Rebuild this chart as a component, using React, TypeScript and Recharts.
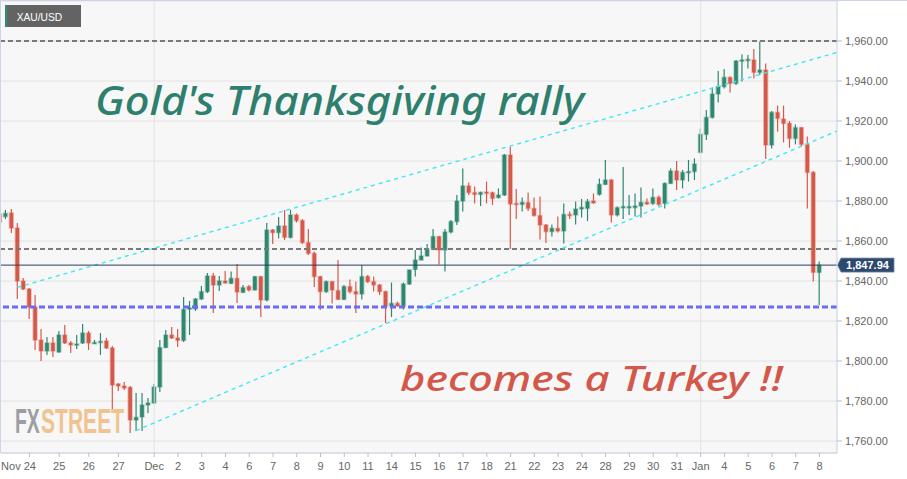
import React from 'react';
import { ComposedChart, Bar, XAxis, YAxis, CartesianGrid, ReferenceLine } from 'recharts';

// candle index of the first value below (partially clipped candle at left edge)
const firstIndex = -1;

const opens = [
  1873.5, 1872.2, 1874, 1866.5, 1840, 1836, 1827, 1810.5, 1805, 1809, 1804.5, 1813, 1809, 1808, 1809, 1814, 1808.8, 1809.2, 1810, 1806.5,
  1788.5, 1787.5, 1786.8, 1770.5, 1772, 1778, 1779, 1787, 1806.7, 1813, 1811.5, 1810.3, 1826, 1826, 1831, 1834.7, 1842.5, 1838, 1840, 1838.8,
  1841.3, 1834.3, 1837.2, 1835.5, 1842.2, 1830.5, 1865.5, 1864.2, 1867.5, 1861.8, 1873, 1870.2, 1859.2, 1853.8, 1842.2, 1834.7, 1839.7, 1835.2, 1830.8, 1837.2,
  1834.7, 1833.5, 1842.2, 1839.7, 1838, 1834.7, 1827.5, 1828.8, 1827.5, 1838.5, 1845.8, 1850.5, 1852.5, 1855.8, 1862.2, 1855.5, 1864.5, 1869.7, 1880, 1887.5,
  1884.2, 1883.3, 1884.5, 1884.2, 1881.7, 1883, 1903, 1878.8, 1878.3, 1879.2, 1876.3, 1872.7, 1868, 1864.7, 1866.3, 1865, 1873.3, 1873, 1876, 1876.3,
  1880, 1883.3, 1888.3, 1890.5, 1873, 1876.7, 1876.7, 1876.7, 1877.5, 1879.3, 1878.8, 1881.8, 1878.8, 1888.8, 1895, 1890.5, 1894.2, 1894.7, 1904.3, 1913.3,
  1921.8, 1933.5, 1937.2, 1941.8, 1938.8, 1950, 1950.3, 1950.5, 1944.3, 1945.5, 1908, 1924.3, 1921, 1918.8, 1911.3, 1916.7, 1908.3, 1894.3, 1844.3,
];
const highs = [
  1874.5, 1875.5, 1876, 1869, 1841.5, 1836.5, 1833, 1816, 1812, 1812, 1815, 1818, 1810, 1813, 1818.5, 1815, 1810.5, 1814, 1811.5, 1807.5,
  1789, 1789.5, 1787.5, 1784, 1784, 1781.5, 1788.5, 1810.5, 1815.5, 1817, 1816, 1832, 1830, 1831.5, 1837.5, 1844, 1844, 1842.5, 1845, 1844.7,
  1848.5, 1838, 1838, 1842.5, 1842.5, 1869, 1866, 1872, 1875.5, 1875.5, 1873.8, 1871, 1866, 1854.7, 1842.5, 1840.2, 1840, 1850.5, 1838, 1840.8,
  1839.7, 1848, 1843, 1842.2, 1838.5, 1835.2, 1839.2, 1829.7, 1839.2, 1845.8, 1855.5, 1856.8, 1858.5, 1866, 1862.5, 1866, 1870.5, 1883, 1896.3, 1889.2,
  1887.2, 1884.7, 1889.7, 1884.7, 1886.3, 1903.5, 1907, 1886, 1881.7, 1884.3, 1881.7, 1882.2, 1868.5, 1868.3, 1872.2, 1878.8, 1874.7, 1879.7, 1881, 1881,
  1883.8, 1891.3, 1900.5, 1891, 1877.2, 1897, 1883, 1883.8, 1886.7, 1881.3, 1886.3, 1882.7, 1889.3, 1896.3, 1900, 1895.5, 1900.5, 1901.3, 1916.3, 1925.5,
  1936.7, 1945, 1946, 1942.2, 1950.5, 1953.3, 1953, 1956, 1959.7, 1948.8, 1925, 1927.7, 1927.7, 1920, 1918.3, 1917, 1912.2, 1895, 1849.7,
];
const lows = [
  1869, 1871, 1864, 1831, 1835.5, 1821, 1805.5, 1800, 1803, 1802, 1804, 1808.5, 1804, 1806, 1808.5, 1805.5, 1808.5, 1803, 1806, 1774,
  1785, 1785.5, 1764, 1765, 1765, 1774, 1778.5, 1784.5, 1806.5, 1811, 1807, 1809.5, 1813, 1825, 1830.5, 1834, 1824, 1835, 1838.8, 1838.5,
  1829, 1834, 1834.7, 1835.2, 1822, 1829.7, 1858.5, 1861.3, 1860.5, 1861.3, 1869.2, 1858.5, 1853, 1837, 1825.5, 1834, 1828.8, 1830.5, 1830.5, 1833.8,
  1824, 1830.8, 1839, 1834.7, 1833, 1819, 1822, 1827.2, 1825.8, 1838, 1842.2, 1850.2, 1852.2, 1855.5, 1848.2, 1844.7, 1863.8, 1868, 1874.7, 1883,
  1878.8, 1877.5, 1878.8, 1878, 1881.3, 1882.5, 1856, 1871, 1874.7, 1875, 1872.2, 1860.8, 1859, 1862.2, 1864.3, 1858.8, 1871, 1868.3, 1871.7, 1870,
  1878.7, 1882.7, 1888, 1869.3, 1872.2, 1871, 1873, 1872.2, 1871.7, 1878, 1878, 1877.5, 1876.3, 1888.5, 1885.5, 1886.3, 1889.7, 1890.5, 1903.8, 1910.5,
  1921.3, 1929.3, 1936.3, 1934.3, 1938, 1939.7, 1946.3, 1941.3, 1943, 1901, 1906.3, 1914.7, 1909.3, 1906.7, 1908.3, 1907, 1876.3, 1839.7, 1828,
];
const closes = [
  1869.5, 1873.8, 1866.5, 1840, 1836, 1827, 1810.5, 1805, 1809, 1805, 1813, 1809, 1808, 1808.5, 1814, 1809, 1809.2, 1809.8, 1806.5, 1788,
  1787.5, 1786.5, 1770.5, 1771.8, 1778, 1779, 1787, 1806.7, 1813, 1811.5, 1810.3, 1825.8, 1826.5, 1831, 1834.7, 1842.5, 1838, 1840, 1839, 1841.3,
  1834.5, 1836.7, 1835.5, 1842.2, 1830.5, 1865.5, 1864.2, 1867.5, 1861.8, 1873, 1870.2, 1859.2, 1853.8, 1842.2, 1834.7, 1839.7, 1835.5, 1830.8, 1837.2, 1834.7,
  1833.5, 1842.2, 1839.7, 1838, 1834.7, 1827.5, 1828.8, 1827.5, 1838.5, 1845.5, 1850.5, 1852.5, 1855.5, 1862.2, 1855.5, 1864.5, 1869.7, 1880, 1887.5, 1884.2,
  1883.3, 1884.3, 1883.8, 1881.3, 1883, 1903, 1878.5, 1878.2, 1879.3, 1876.3, 1872.7, 1868, 1864.7, 1866.3, 1865, 1873.3, 1872.7, 1876, 1876.8, 1879.7,
  1879, 1888.3, 1890.5, 1873, 1876.7, 1877.2, 1877.2, 1877.5, 1879.3, 1878.5, 1881.8, 1878.3, 1888.8, 1895, 1890.5, 1894.3, 1894.7, 1898.5, 1913.3, 1921.8,
  1933.5, 1937.2, 1941.8, 1938.8, 1950, 1950.5, 1950.8, 1944.3, 1945.5, 1908, 1924.3, 1921.3, 1918.8, 1911.3, 1916.7, 1908.3, 1894.3, 1844.3, 1847.94,
];

const tickIdx = [4, 9, 14, 19, 25, 29, 33, 37, 41, 45, 49, 53, 57, 61, 65, 69, 73, 77, 81, 85, 89, 93, 97, 101, 105, 109, 113, 117, 121, 125, 129, 133, 137];
const tickLabels = ['Nov 24', '25', '26', '27', 'Dec', '2', '3', '4', '6', '7', '8', '9', '10', '11', '14', '15', '16', '17', '18', '21', '22', '23', '24', '28', '29', '30', '31', 'Jan', '4', '5', '6', '7', '8'];
const yTicks = [1760, 1780, 1800, 1820, 1840, 1860, 1880, 1900, 1920, 1940, 1960];
const monthStarts = [25, 117];

const resistanceTop = 1960;
const resistanceMid = 1856;
const lastPrice = 1847.94;
const supportLevel = 1827;
const upperChannel = [{ x: 1.95, y: 1836.8 }, { x: 139.95, y: 1954.3 }];
const lowerChannel = [{ x: 21.94, y: 1765.2 }, { x: 139.95, y: 1915 }];

const GREEN = '#2f8770';
const RED = '#d65848';
const FONT = '"Liberation Sans", Arial, sans-serif';

const data = opens.map((o, k) => ({
  i: k + firstIndex,
  open: o,
  high: highs[k],
  low: lows[k],
  close: closes[k],
  range: [lows[k], highs[k]],
}));

const Candle = (props: any) => {
  const { x, y, width, height, payload } = props;
  if (x == null || y == null || !payload) return null;
  const { open, close, high, low } = payload;
  const cx = x + width / 2;
  const yTop = Math.min(y, y + height);
  const yBot = Math.max(y, y + height);
  const span = high - low;
  const py = (v: number) => (span > 0 ? yTop + ((high - v) / span) * (yBot - yTop) : yTop);
  const up = close >= open;
  const color = up ? GREEN : RED;
  const bTop = py(Math.max(open, close));
  const bBot = py(Math.min(open, close));
  const h = Math.max(bBot - bTop, 1.2);
  return (
    <g>
      <line x1={cx} x2={cx} y1={yTop} y2={yBot} stroke={color} strokeWidth={1.2} />
      <rect x={cx - 2.7} y={bTop - 0.8} width={5.4} height={h + 1.6} fill={color} fillOpacity={0.35} />
      <rect x={cx - 1.8} y={bTop} width={3.6} height={h} fill={color} />
    </g>
  );
};

const XTick = (props: any) => {
  const { x, y, payload } = props;
  const idx = tickIdx.indexOf(payload.value);
  const label = idx >= 0 ? tickLabels[idx] : '';
  const isFirst = idx === 0;
  return (
    <text
      x={isFirst ? x + 6.5 : x}
      y={y}
      dy="0.71em"
      textAnchor={isFirst ? 'end' : 'middle'}
      fontSize={11}
      fill="#666"
      fontFamily={FONT}
    >
      {label}
    </text>
  );
};

const PriceTag = (props: any) => {
  const vb = props.viewBox || {};
  const x0 = (vb.x || 0) + (vb.width || 0);
  const y0 = vb.y || 0;
  return (
    <g>
      <path
        d={`M ${x0 + 0.5} ${y0} L ${x0 + 4} ${y0 - 7} L ${x0 + 57} ${y0 - 7} L ${x0 + 57} ${y0 + 7} L ${x0 + 4} ${y0 + 7} Z`}
        fill="#2d4a6e"
        stroke="#6d86a8"
        strokeWidth={0.8}
      />
      <text x={x0 + 30.5} y={y0 + 4} textAnchor="middle" fontSize={11} fontWeight="bold" fill="#fff" fontFamily={FONT}>
        {lastPrice.toLocaleString('en-US', { minimumFractionDigits: 2, maximumFractionDigits: 2 })}
      </text>
    </g>
  );
};

export default function App() {
  return (
    <div style={{ position: 'fixed', left: 0, top: 0, width: 907, height: 479, background: '#fff' }}>
      <ComposedChart
        width={907}
        height={479}
        data={data}
        margin={{ top: 1, right: 0, bottom: 0, left: 1 }}
        style={{ fontFamily: FONT }}
      >
        <CartesianGrid vertical={false} stroke="#e2e2e2" fill="#f7f7f7" />
        <XAxis
          dataKey="i"
          type="number"
          domain={[-0.79, 139.95]}
          allowDataOverflow
          ticks={tickIdx}
          interval={0}
          tick={<XTick />}
          tickSize={4}
          tickMargin={5}
          height={26}
          axisLine={{ stroke: '#c9d0e0' }}
          tickLine={{ stroke: '#b8bfcc' }}
        />
        <YAxis
          orientation="right"
          type="number"
          domain={[1754, 1980]}
          allowDataOverflow
          ticks={yTicks}
          interval={0}
          width={70}
          tickSize={5}
          tickMargin={3}
          tick={{ fontSize: 11, fill: '#666', fontFamily: FONT }}
          tickFormatter={(v: number) => v.toLocaleString('en-US', { minimumFractionDigits: 2, maximumFractionDigits: 2 })}
          axisLine={{ stroke: '#c9d0e0' }}
          tickLine={{ stroke: '#b8bfcc' }}
        />
        {monthStarts.map((m) => (
          <ReferenceLine key={m} x={m} stroke="#e2e2e2" />
        ))}
        <Bar dataKey="range" barSize={6} shape={<Candle />} isAnimationActive={false} />
        <ReferenceLine y={resistanceTop} stroke="#7a7a7a" strokeWidth={2.2} strokeDasharray="5 3" />
        <ReferenceLine y={resistanceMid} stroke="#7a7a7a" strokeWidth={2.2} strokeDasharray="5 3" />
        <ReferenceLine y={supportLevel} stroke="#6b6bf7" strokeWidth={3} strokeDasharray="6 3" />
        <ReferenceLine segment={upperChannel} stroke="#3ee8f4" strokeWidth={1.4} strokeDasharray="4 4" ifOverflow="hidden" />
        <ReferenceLine segment={lowerChannel} stroke="#3ee8f4" strokeWidth={1.4} strokeDasharray="4 4" ifOverflow="hidden" />
        <ReferenceLine y={lastPrice} stroke="#2a3f5f" strokeWidth={1} label={<PriceTag />} />
      </ComposedChart>
      <svg
        width={907}
        height={479}
        style={{ position: 'absolute', left: 0, top: 0, pointerEvents: 'none' }}
      >
        <line x1={0} x2={907} y1={0.5} y2={0.5} stroke="#cdd4e6" />
        <line x1={0.5} x2={0.5} y1={0} y2={453} stroke="#cdd4e6" />
        <rect x={5} y={5} width={76} height={22} fill="#636363" />
        <rect x={5} y={5} width={2.3} height={22} fill="#2e8b6f" />
        <text x={16.7} y={20.6} fontSize={10.5} fill="#fff" fontFamily={FONT} textLength={45.6} lengthAdjust="spacingAndGlyphs">
          XAU/USD
        </text>
        <text
          x={95}
          y={115}
          fontSize={39}
          fontStyle="italic"
          fontWeight={500}
          fill="#2e7f6d"
          fontFamily='"Noto Sans", sans-serif'
          textLength={489}
          lengthAdjust="spacingAndGlyphs"
        >
          Gold's Thanksgiving rally
        </text>
        <text
          x={400}
          y={391}
          fontSize={35}
          fontStyle="italic"
          fontWeight={500}
          fill="#d4584a"
          fontFamily='"Noto Sans", sans-serif'
          textLength={383}
          lengthAdjust="spacingAndGlyphs"
        >
          becomes a Turkey !!
        </text>
        <g transform="translate(15,433) scale(0.54,1)">
          <text x={0} y={0} fontSize={36} fontWeight="bold" fill="#9d9ea3" fontFamily={FONT}>
            FX
          </text>
        </g>
        <g transform="translate(41,433) scale(0.585,1)">
          <text x={0} y={0} fontSize={36} fontWeight="bold" fill="#f0c390" fontFamily={FONT}>
            STREET
          </text>
        </g>
      </svg>
    </div>
  );
}
